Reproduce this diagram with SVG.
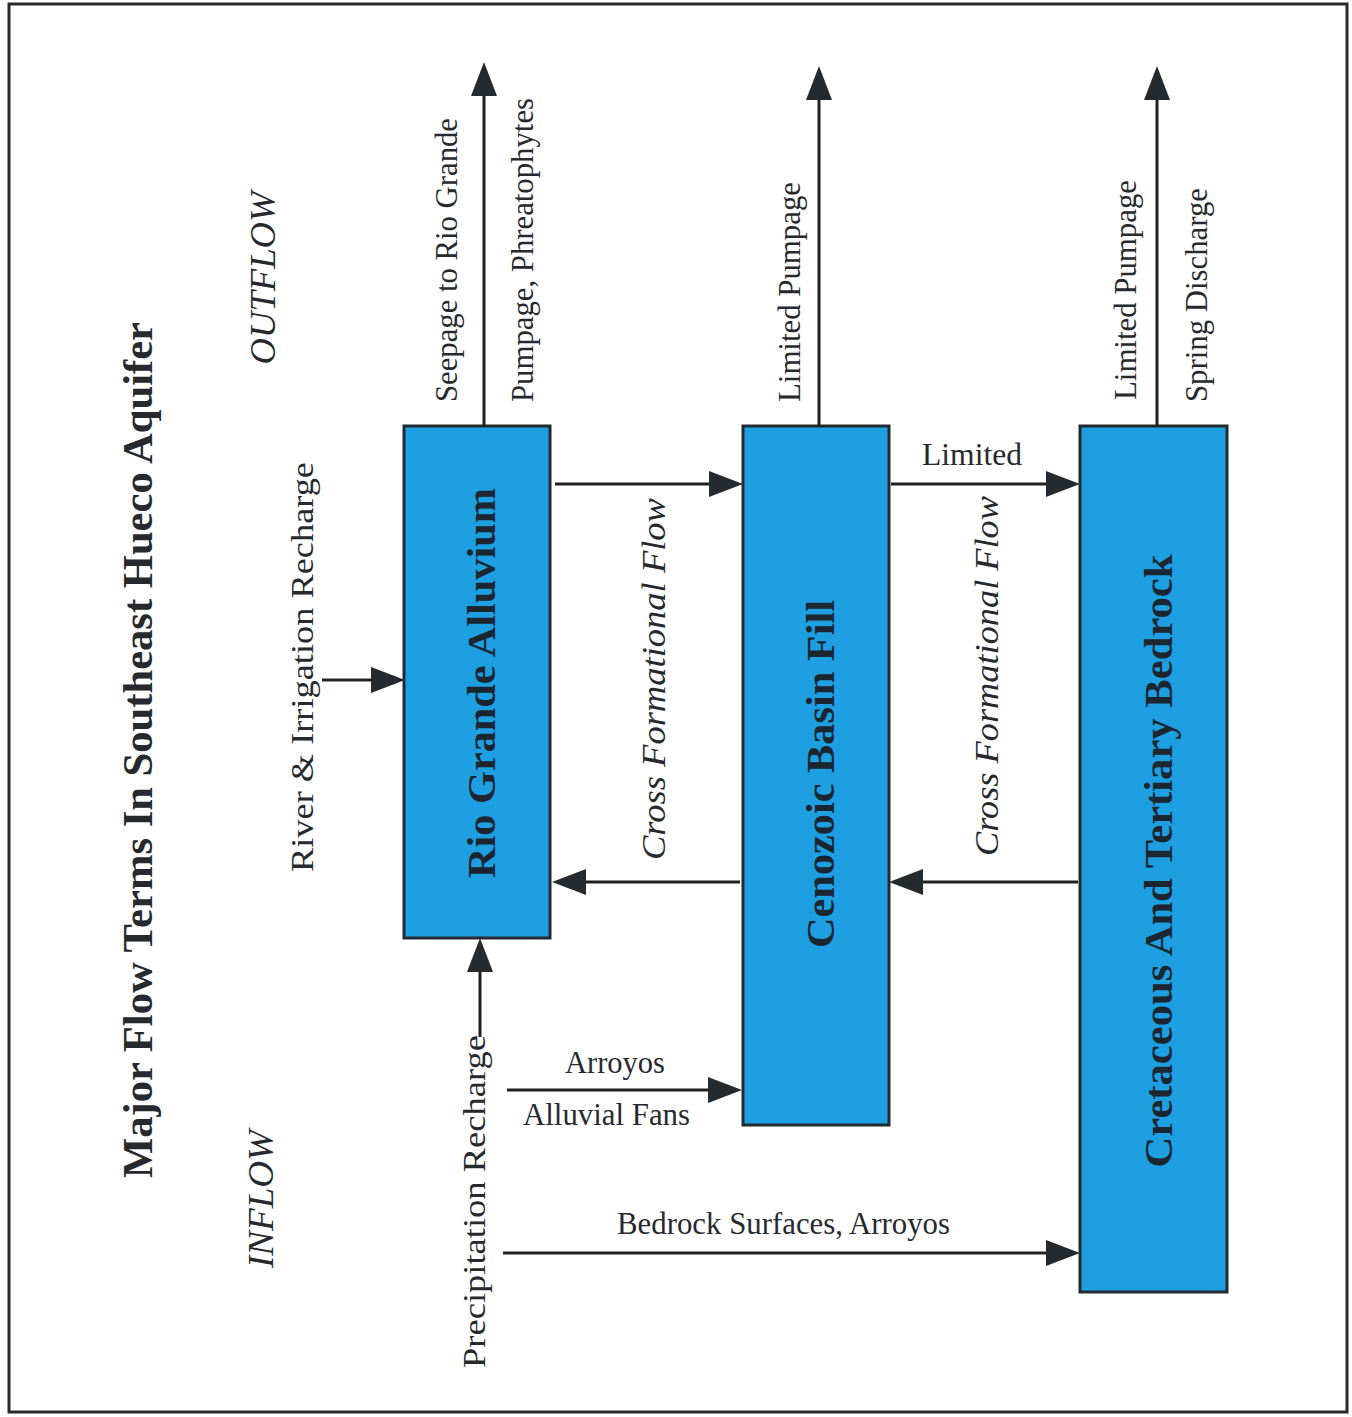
<svg xmlns="http://www.w3.org/2000/svg" width="1352" height="1417" viewBox="0 0 1352 1417">
  <style>
    .frame { fill: #ffffff; stroke: #2a2a2a; stroke-width: 3; }
    .box { fill: #1d9fe2; stroke: #232a30; stroke-width: 3; }
    .flow { fill: none; stroke: #222; stroke-width: 3; marker-end: url(#head); }
    .t { font-family: "Liberation Serif", "Times New Roman", serif; fill: #262a2e; }
    .lbl { font-size: 31px; }
    .hdr { font-size: 36px; font-style: italic; }
    .xf { font-size: 33px; font-style: italic; }
    .name { font-size: 40px; font-weight: bold; fill: #1c2631; }
    .title { font-size: 42px; font-weight: bold; }
  </style>
  <defs>
    <marker id="head" viewBox="0 0 34 26" refX="14" refY="13" markerWidth="34" markerHeight="26" markerUnits="userSpaceOnUse" orient="auto">
      <path d="M0,0 L34,13 L0,26 Z" fill="#232a30"/>
    </marker>
  </defs>

  <rect class="frame" x="9" y="4" width="1338" height="1408"/>

  <!-- title and side headings -->
  <g id="title">
    <text class="t title" transform="translate(152,750) rotate(-90)" text-anchor="middle" textLength="856" lengthAdjust="spacingAndGlyphs">Major Flow Terms In Southeast Hueco Aquifer</text>
  </g>
  <g id="outflow-heading">
    <text class="t hdr" transform="translate(275,278) rotate(-90)" text-anchor="middle" textLength="173" lengthAdjust="spacingAndGlyphs">OUTFLOW</text>
  </g>
  <g id="inflow-heading">
    <text class="t hdr" transform="translate(273,1199) rotate(-90)" text-anchor="middle" textLength="138" lengthAdjust="spacingAndGlyphs">INFLOW</text>
  </g>

  <!-- aquifer units -->
  <g id="rio-grande-alluvium">
    <rect class="box" x="404" y="426" width="146" height="512"/>
    <text class="t name" transform="translate(495,683) rotate(-90)" text-anchor="middle" textLength="390" lengthAdjust="spacingAndGlyphs">Rio Grande Alluvium</text>
  </g>
  <g id="cenozoic-basin-fill">
    <rect class="box" x="743" y="426" width="146" height="699"/>
    <text class="t name" transform="translate(834,774) rotate(-90)" text-anchor="middle" textLength="348" lengthAdjust="spacingAndGlyphs">Cenozoic Basin Fill</text>
  </g>
  <g id="cretaceous-tertiary-bedrock">
    <rect class="box" x="1080" y="426" width="147" height="866"/>
    <text class="t name" transform="translate(1172,861) rotate(-90)" text-anchor="middle" textLength="613" lengthAdjust="spacingAndGlyphs">Cretaceous And Tertiary Bedrock</text>
  </g>

  <!-- flow connectors -->
  <g id="connectors">
    <!-- outflows -->
    <line class="flow" x1="484" y1="426" x2="484" y2="82"/>
    <line class="flow" x1="819" y1="426" x2="819" y2="86"/>
    <line class="flow" x1="1157" y1="426" x2="1157" y2="86"/>
    <!-- cross formational flow, left to right -->
    <line class="flow" x1="555" y1="484" x2="723" y2="484"/>
    <line class="flow" x1="891" y1="484" x2="1060" y2="484"/>
    <!-- cross formational flow, right to left -->
    <line class="flow" x1="740" y1="882" x2="572" y2="882"/>
    <line class="flow" x1="1078" y1="882" x2="909" y2="882"/>
    <!-- inflows -->
    <line class="flow" x1="322" y1="680" x2="385" y2="680"/>
    <line class="flow" x1="480" y1="1037" x2="480" y2="958"/>
    <line class="flow" x1="507" y1="1090" x2="722" y2="1090"/>
    <line class="flow" x1="503" y1="1253" x2="1060" y2="1253"/>
  </g>

  <!-- flow labels -->
  <g id="labels">
    <text class="t lbl" transform="translate(457,402) rotate(-90)" textLength="284" lengthAdjust="spacingAndGlyphs">Seepage to Rio Grande</text>
    <text class="t lbl" transform="translate(533,402) rotate(-90)" textLength="304" lengthAdjust="spacingAndGlyphs">Pumpage, Phreatophytes</text>
    <text class="t lbl" transform="translate(800,402) rotate(-90)" textLength="220" lengthAdjust="spacingAndGlyphs">Limited Pumpage</text>
    <text class="t lbl" transform="translate(1136,400) rotate(-90)" textLength="220" lengthAdjust="spacingAndGlyphs">Limited Pumpage</text>
    <text class="t lbl" transform="translate(1207,402) rotate(-90)" textLength="214" lengthAdjust="spacingAndGlyphs">Spring Discharge</text>
    <text class="t lbl" transform="translate(313,872) rotate(-90)" textLength="410" lengthAdjust="spacingAndGlyphs">River &amp; Irrigation Recharge</text>
    <text class="t lbl" transform="translate(485,1368) rotate(-90)" textLength="333" lengthAdjust="spacingAndGlyphs">Precipitation Recharge</text>
    <text class="t xf" transform="translate(665,860) rotate(-90)" textLength="362" lengthAdjust="spacingAndGlyphs">Cross Formational Flow</text>
    <text class="t xf" transform="translate(998,856) rotate(-90)" textLength="360" lengthAdjust="spacingAndGlyphs">Cross Formational Flow</text>
    <text class="t lbl" x="922" y="465" textLength="100" lengthAdjust="spacingAndGlyphs">Limited</text>
    <text class="t lbl" x="565" y="1073" textLength="100" lengthAdjust="spacingAndGlyphs">Arroyos</text>
    <text class="t lbl" x="523" y="1125" textLength="167" lengthAdjust="spacingAndGlyphs">Alluvial Fans</text>
    <text class="t lbl" x="617" y="1234" textLength="333" lengthAdjust="spacingAndGlyphs">Bedrock Surfaces, Arroyos</text>
  </g>
</svg>
